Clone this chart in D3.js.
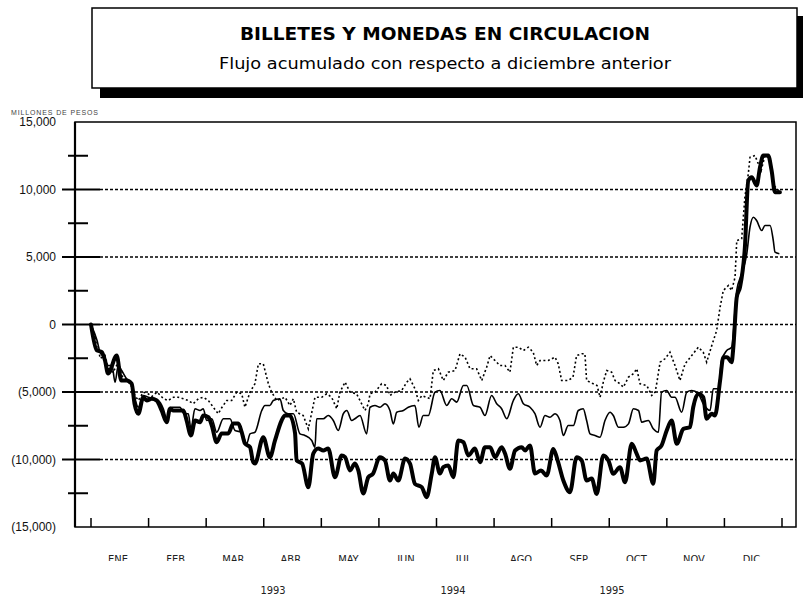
<!DOCTYPE html>
<html>
<head>
<meta charset="utf-8">
<script src="https://cdn.jsdelivr.net/npm/d3@7"></script>
<style>
  body { margin: 0; background: #fff; }
  svg { display: block; }
</style>
</head>
<body>
<svg id="chart" width="803" height="603"></svg>
<script>
'use strict';

// month labels and year labels
var months = ['ENE', 'FEB', 'MAR', 'ABR', 'MAY', 'JUN', 'JUL', 'AGO', 'SEP', 'OCT', 'NOV', 'DIC'];
var years = ['1993', '1994', '1995'];
var yTicks = [15000, 10000, 5000, 0, -5000, -10000, -15000];

// thick solid series (day of year, millones de pesos)
var thickDays = [0, 3, 5.7, 7.4, 9, 13.6, 16, 18.8, 21.5, 23, 25, 27.6, 29.4, 32, 34.7, 37.3, 40, 41.7, 43.5, 46, 48.8, 50.5, 52.8, 55, 57.6, 59.3, 62, 63.8, 66.4, 69, 72.5, 75.2, 77.8, 79.6, 81.3, 84, 85.7, 86.6, 91, 94.5, 97.2, 100.7, 102.5, 105, 107.8, 108.6, 111.5, 114.8, 117.4, 120, 122.7, 125.3, 128.9, 132.4, 134.2, 136.8, 139.4, 141.2, 143.8, 146.5, 149, 152.6, 155.3, 157.9, 159.7, 162.3, 165.9, 168.5, 171.1, 174.7, 177.3, 180, 181.7, 184.3, 186.1, 188.7, 191.4, 194, 196.7, 199.3, 202.8, 205.5, 208.1, 210.8, 213.4, 216.9, 218.7, 221.3, 224, 227.5, 229.3, 231.9, 234.5, 237.7, 240.7, 244.2, 246.2, 249.5, 253, 256.5, 259.2, 261.8, 264.5, 267.1, 270.6, 273.3, 275.9, 279.4, 282.1, 285.6, 288.2, 290, 293.5, 297, 298.8, 301.4, 304.1, 306.7, 309.4, 312.9, 316.4, 318.1, 320.8, 323.4, 325.2, 327.9, 329.6, 332.3, 334, 336, 338.4, 339.3, 341.1, 342.8, 345.4, 347.2, 349, 351.6, 353.4, 355.1, 357.7, 359.5, 361.3, 363.9];
var thickVals = [0, -1900, -2050, -2670, -3630, -2300, -4150, -4150, -4390, -5870, -6610, -5390, -5630, -5500, -5630, -6370, -7240, -6240, -6370, -6370, -6370, -7110, -8220, -7110, -7240, -6740, -6870, -7480, -8720, -8070, -8070, -7330, -7330, -7980, -8810, -9090, -10200, -10300, -8350, -9830, -8590, -7110, -6740, -6740, -8070, -10070, -10300, -12050, -9560, -9190, -9330, -9190, -11310, -9700, -9830, -10810, -10300, -10810, -12520, -11310, -11040, -9830, -10070, -11560, -11040, -11560, -9930, -10300, -11800, -12050, -12790, -11040, -9830, -11040, -10570, -10440, -11310, -8590, -8720, -9700, -9190, -10200, -9090, -9090, -9830, -9090, -9560, -10690, -9330, -9090, -9330, -8960, -11040, -10810, -11190, -9220, -9930, -11560, -12420, -9830, -10070, -11560, -11410, -12550, -9700, -10070, -11060, -10570, -11680, -8840, -9560, -10070, -9930, -11800, -9330, -8960, -7850, -7110, -8840, -7730, -7610, -6130, -5130, -5390, -6980, -6610, -6740, -4150, -2420, -2420, -2790, -1680, 2020, 2760, 5730, 10670, 10910, 10300, 11650, 12520, 12520, 11410, 9800, 9800];

// thin solid series
var thinDays = [0, 3.2, 4.8, 6.9, 9.1, 11.1, 12.7, 14.4, 16.2, 18.8, 21.5, 23.2, 25, 27.6, 30.3, 32.9, 35.5, 38.2, 40, 41.7, 44.4, 47, 49.1, 51.4, 52.8, 54.9, 57.6, 59.3, 61.1, 63.8, 66.4, 69.9, 73.4, 76.1, 79.6, 82.2, 84, 86.6, 90.2, 91.9, 94.5, 96.3, 99.8, 101.6, 104.1, 106.9, 110.4, 113, 116.6, 118.3, 119.2, 122.7, 125.3, 128, 130.6, 133.3, 135.1, 137.7, 139.4, 142.1, 145.6, 147.4, 150, 152.6, 155.3, 157.9, 159.7, 161.5, 165, 167.6, 171.1, 173.2, 175.5, 178.2, 181.7, 184.3, 187.9, 190.5, 193.2, 196.7, 198.5, 202, 205.5, 208.1, 211.6, 214.3, 216.9, 219.6, 223.1, 225.7, 228.4, 231.9, 234.5, 237.2, 239.8, 242.4, 245.1, 247.7, 249.5, 252.1, 254.8, 257.4, 260, 261.8, 263.6, 266.2, 268.9, 271.5, 274.2, 275.9, 278.6, 281.2, 283.9, 286.5, 289.2, 290.9, 294.4, 297, 299.7, 301.4, 304.1, 306.7, 308.5, 312, 314.7, 317.3, 320.8, 323.4, 327, 328.7, 331.4, 333.1, 335.8, 338.4, 341.1, 343.7, 346.4, 348.1, 349.9, 351.6, 354.3, 356, 358.7, 360.4, 361.3, 363.6];
var thinVals = [0, -1190, -2070, -2420, -3040, -3040, -4270, -3040, -3410, -4020, -4390, -5500, -6130, -5260, -5390, -5500, -5630, -6240, -6980, -6130, -6130, -6130, -6610, -6610, -7730, -6240, -6370, -6240, -7110, -6980, -7980, -6980, -6980, -7850, -7980, -8840, -8100, -7980, -6370, -6000, -6000, -5630, -5500, -6370, -6610, -6610, -8100, -8220, -8590, -9090, -6980, -6980, -6740, -7110, -7850, -6610, -6370, -7110, -6980, -6740, -8100, -6130, -6000, -6130, -5870, -6370, -7360, -6500, -6370, -6130, -6000, -7610, -6740, -6740, -5010, -4890, -6000, -5500, -5750, -4520, -4520, -6000, -6130, -6740, -5260, -5870, -6240, -6980, -5630, -5130, -5870, -6130, -6610, -7610, -6740, -6870, -6610, -7110, -8220, -7480, -7480, -6370, -6240, -7110, -8100, -8220, -8350, -7110, -6500, -6740, -7610, -7610, -7360, -6240, -6370, -7240, -7110, -7730, -7980, -5010, -4890, -5390, -5390, -6500, -5010, -4890, -5130, -5870, -6370, -4760, -4760, -2670, -1930, -1680, 2520, 3760, 5240, 7210, 7950, 7700, 6960, 7330, 7330, 6220, 5360, 5240];

// dotted series
var dotDays = [0, 3.7, 4.8, 7.4, 9.1, 11.6, 14.4, 16.2, 19, 21.7, 23.2, 25, 27.6, 30.1, 32.2, 34.9, 38.2, 40.8, 43.5, 46.1, 48.8, 51.4, 54, 56.7, 59.3, 62, 64.6, 67.2, 69.2, 71.7, 74.3, 77, 79.6, 81.3, 84, 86.6, 88.4, 91, 93.7, 95.4, 98.1, 102.5, 105.1, 106.9, 108.6, 112.1, 114.8, 118.3, 121.9, 124.5, 127.1, 129.8, 131.5, 134.2, 136.8, 140.3, 142.1, 144.7, 146.5, 147.4, 150, 153.5, 156.2, 157.9, 160.5, 164.1, 166.8, 168.5, 171.1, 172.9, 174.8, 179.1, 180.8, 183.5, 186.1, 188.7, 192.3, 194.9, 197.6, 200.2, 203.7, 206.4, 209, 210.8, 213.4, 216, 218.7, 221.3, 223.1, 225.7, 228.4, 231, 233.6, 235.4, 237.2, 241.5, 245.1, 246.8, 248.6, 252.1, 254.6, 256.5, 259.2, 260.9, 261.8, 265.3, 267.3, 268.9, 270.6, 272.4, 275, 276.8, 279.4, 281.2, 283.9, 286.5, 288.3, 290, 293.6, 296.2, 298, 298.8, 300.6, 303.2, 305.8, 308.5, 311.1, 313.8, 317.3, 320.8, 323.4, 325.2, 327.9, 330.5, 332.3, 334, 336.7, 338.4, 340.2, 341.1, 343.7, 345.4, 347.2, 348.1, 350.7, 352.5, 354, 356, 358.7, 360.8, 363.9];
var dotVals = [0, -1560, -2520, -2300, -3260, -3560, -2810, -3780, -4150, -4640, -5260, -5630, -5010, -5130, -5330, -5010, -5480, -5630, -5390, -5390, -5500, -5630, -5870, -5500, -5390, -5630, -6130, -6610, -6130, -5630, -5630, -5010, -5130, -6130, -5010, -4390, -2910, -2910, -4390, -5010, -5630, -5390, -6000, -5500, -6500, -6740, -7730, -5390, -5390, -5130, -5390, -6240, -5010, -4270, -5010, -5130, -5630, -6370, -5870, -5130, -5010, -4390, -4520, -5260, -5010, -4890, -4270, -4020, -4760, -5630, -5260, -5500, -3410, -3280, -4150, -3530, -3410, -2170, -2420, -3280, -3280, -4150, -3160, -2300, -2670, -3040, -3040, -3530, -1680, -1680, -1930, -1680, -2050, -3040, -2670, -2670, -2420, -2910, -4150, -4150, -3900, -2300, -2170, -2170, -4150, -4390, -4520, -5390, -4270, -3410, -3530, -4150, -4390, -4640, -3900, -3650, -3280, -4390, -4520, -5260, -5010, -4390, -2790, -2540, -2050, -3040, -4150, -2910, -2300, -1680, -2050, -2790, -1560, -440, 1280, 2520, 2890, 2520, 3500, 6220, 6350, 9430, 11160, 12390, 12520, 11900, 11410, 12520, 12300, 10300, 9800];

(function () {
  function zip(days, vals) {
    return days.map(function (d, i) { return { day: d, v: vals[i] } });
  }

  var svg = d3.select('#chart');
  var left = 75, right = 796, plotTop = 122, bottom = 527;

  var x = d3.scaleLinear().domain([0, 365]).range([91, 782]);
  var y = d3.scaleLinear().domain([-15000, 15000]).range([bottom, plotTop]);

  // title box with shadow
  svg.append('rect').attr('x', 100).attr('y', 16).attr('width', 706).attr('height', 82).attr('fill', '#000');
  svg.append('rect').attr('x', 92).attr('y', 8).attr('width', 705).attr('height', 80)
    .attr('fill', '#fff').attr('stroke', '#000').attr('stroke-width', 1.5);
  svg.append('text').attr('x', 445).attr('y', 40).attr('text-anchor', 'middle')
    .attr('font-family', '"DejaVu Sans Condensed", "Liberation Sans", Arial, sans-serif').attr('font-weight', 'bold')
    .attr('font-size', 17).attr('textLength', 410).attr('lengthAdjust', 'spacingAndGlyphs')
    .text('BILLETES Y MONEDAS EN CIRCULACION');
  svg.append('text').attr('x', 445).attr('y', 69).attr('text-anchor', 'middle')
    .attr('font-family', '"DejaVu Sans Condensed", "Liberation Sans", Arial, sans-serif')
    .attr('font-size', 16).attr('textLength', 452).attr('lengthAdjust', 'spacingAndGlyphs')
    .text('Flujo acumulado con respecto a diciembre anterior');

  svg.append('text').attr('x', 11).attr('y', 115)
    .attr('font-family', '"Liberation Sans", Arial, sans-serif').attr('font-size', 7).attr('fill', '#444')
    .attr('textLength', 87).attr('lengthAdjust', 'spacing')
    .text('MILLONES  DE PESOS');

  // gridlines
  svg.append('g').selectAll('line').data([10000, 5000, 0, -5000, -10000]).enter().append('line')
    .attr('x1', 100).attr('x2', right).attr('y1', function (d) { return y(d) }).attr('y2', function (d) { return y(d) })
    .attr('stroke', '#000').attr('stroke-width', 1.3).attr('stroke-dasharray', '3,2');

  // frame
  svg.append('rect').attr('x', left).attr('y', plotTop).attr('width', right - left).attr('height', bottom - plotTop)
    .attr('fill', 'none').attr('stroke', '#000').attr('stroke-width', 1.5);
  svg.append('line').attr('x1', left).attr('x2', left).attr('y1', plotTop).attr('y2', bottom)
    .attr('stroke', '#000').attr('stroke-width', 2.2);

  // y axis ticks
  var ticks = svg.append('g');
  ticks.selectAll('line.maj').data([10000, 5000, 0, -5000, -10000]).enter().append('line')
    .attr('class', 'maj')
    .attr('x1', 62).attr('x2', 100).attr('y1', function (d) { return y(d) }).attr('y2', function (d) { return y(d) })
    .attr('stroke', '#000').attr('stroke-width', 2);
  ticks.selectAll('line.min').data([12500, 7500, 2500, -2500, -7500, -12500]).enter().append('line')
    .attr('class', 'min')
    .attr('x1', 68).attr('x2', 88).attr('y1', function (d) { return y(d) }).attr('y2', function (d) { return y(d) })
    .attr('stroke', '#000').attr('stroke-width', 2);

  var fmt = d3.format(',');
  svg.append('g').selectAll('text').data(yTicks).enter().append('text')
    .attr('x', 56).attr('y', function (d) { return y(d) + 4 })
    .attr('text-anchor', 'end')
    .attr('font-family', '"Liberation Sans", Arial, sans-serif').attr('font-size', 12).attr('fill', '#111')
    .text(function (d) { return d < 0 ? '(' + fmt(-d) + ')' : fmt(d) });

  // x ticks at month boundaries
  var monthTicks = d3.range(13).map(function (i) { return i * 365 / 12 });
  svg.append('g').selectAll('line').data(monthTicks).enter().append('line')
    .attr('x1', function (d) { return x(d) }).attr('x2', function (d) { return x(d) })
    .attr('y1', bottom).attr('y2', bottom - 9)
    .attr('stroke', '#000').attr('stroke-width', 1.5);

  svg.append('clipPath').attr('id', 'mclip').append('rect')
    .attr('x', 0).attr('y', 540).attr('width', 803).attr('height', 21);
  svg.append('g').attr('clip-path', 'url(#mclip)').selectAll('text').data(months).enter().append('text')
    .attr('x', function (d, i) { return x((i + 0.47) * 365 / 12) })
    .attr('y', 563).attr('text-anchor', 'middle')
    .attr('font-family', '"DejaVu Sans Condensed", "Liberation Sans", sans-serif')
    .attr('font-size', 11).attr('fill', '#222')
    .text(function (d) { return d });

  svg.append('g').selectAll('text').data(years).enter().append('text')
    .attr('x', function (d, i) { return [273, 453, 612][i] }).attr('y', 594).attr('text-anchor', 'middle')
    .attr('font-family', '"DejaVu Sans Condensed", "Liberation Sans", sans-serif')
    .attr('font-size', 11).attr('fill', '#222')
    .text(function (d) { return d });

  // series
  var smooth = d3.line().x(function (d) { return x(d.day) }).y(function (d) { return y(d.v) }).curve(d3.curveMonotoneX);
  var straight = d3.line().x(function (d) { return x(d.day) }).y(function (d) { return y(d.v) });

  svg.append('path').datum(zip(dotDays, dotVals)).attr('d', straight)
    .attr('fill', 'none').attr('stroke', '#000').attr('stroke-width', 1.6).attr('stroke-dasharray', '2,2.5');
  svg.append('path').datum(zip(thinDays, thinVals)).attr('d', smooth)
    .attr('fill', 'none').attr('stroke', '#000').attr('stroke-width', 1.6).attr('stroke-linejoin', 'round');
  svg.append('path').datum(zip(thickDays, thickVals)).attr('d', smooth)
    .attr('fill', 'none').attr('stroke', '#000').attr('stroke-width', 4).attr('stroke-linejoin', 'round').attr('stroke-linecap', 'round');
})();
</script>
</body>
</html>
